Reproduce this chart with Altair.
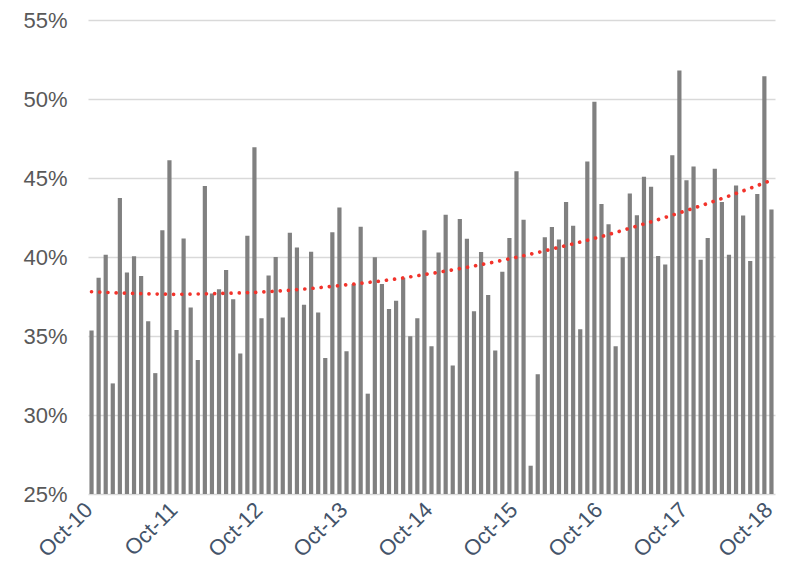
import altair as alt
import pandas as pd

values = [
    35.35, 38.69, 40.15, 32.00, 43.73, 39.02, 40.04, 38.79, 35.94, 32.65, 41.69, 46.13,
    35.38, 41.17, 36.81, 33.48, 44.50, 37.69, 37.96, 39.17, 37.33, 33.90, 41.35, 46.94,
    36.13, 38.83, 40.00, 36.17, 41.54, 40.60, 36.98, 40.33, 36.48, 33.60, 41.56, 43.13,
    34.04, 38.29, 41.92, 31.35, 39.98, 38.29, 36.71, 37.23, 38.69, 34.98, 36.13, 41.69,
    34.35, 40.29, 42.67, 33.13, 42.40, 41.15, 36.56, 40.31, 37.60, 34.08, 39.06, 41.21,
    45.42, 42.35, 26.79, 32.58, 41.25, 41.90, 41.10, 43.48, 41.98, 35.42, 46.04, 49.83,
    43.35, 42.08, 34.35, 39.98, 44.02, 42.65, 45.08, 44.44, 40.06, 39.52, 46.44, 51.81,
    44.85, 45.73, 39.83, 41.21, 45.58, 43.48, 40.15, 44.52, 42.63, 39.75, 43.98, 51.44,
    43.00,
]
month_index = list(range(len(values)))

# trend line at half-year steps
trend_months = [0, 6, 12, 18, 24, 30, 36, 42, 48, 54, 60, 66, 72, 78, 84, 90, 96]
trend_values = [37.80, 37.69, 37.64, 37.69, 37.78, 37.97, 38.24, 38.55, 38.96,
                39.43, 39.98, 40.61, 41.30, 42.09, 42.94, 43.86, 44.86]

tick_labels = ["Oct-10", "Oct-11", "Oct-12", "Oct-13", "Oct-14",
               "Oct-15", "Oct-16", "Oct-17", "Oct-18"]
tick_positions = [12 * k for k in range(len(tick_labels))]
y_ticks = [25, 30, 35, 40, 45, 50, 55]

df = pd.DataFrame({"i": month_index, "v": values})
df_trend = pd.DataFrame({"i": trend_months, "v": trend_values})

label_array = "[" + ",".join("'%s'" % t for t in tick_labels) + "]"

x_scale = alt.Scale(domain=[-0.5, len(values) - 0.5], nice=False, zero=False, padding=0)
y_scale = alt.Scale(domain=[25, 55], nice=False, zero=False)

x_enc = alt.X(
    "i:Q",
    scale=x_scale,
    axis=alt.Axis(
        values=tick_positions,
        labelExpr=label_array + "[round(datum.value / 12)]",
        labelAngle=-45,
        labelAlign="right",
        labelBaseline="middle",
        labelPadding=12,
        labelOffset=-3,
        labelFont="Liberation Sans",
        labelFontSize=22,
        labelColor="#44546A",
        labelOverlap=False,
        grid=False,
        ticks=False,
        domain=False,
        title=None,
    ),
)

bars = alt.Chart(df).mark_bar(width=4.2, color="#808080").encode(
    x=x_enc,
    y=alt.Y(
        "v:Q",
        scale=y_scale,
        axis=alt.Axis(
            values=y_ticks,
            labelExpr="datum.value + '%'",
            labelFont="Liberation Sans",
            labelFontSize=22,
            labelColor="#595959",
            labelPadding=21,
            grid=True,
            gridColor="#d9d9d9",
            gridWidth=1.5,
            ticks=False,
            domain=False,
            title=None,
        ),
    ),
    y2=alt.datum(25),
)

trend = (
    alt.Chart(df_trend)
    .mark_line(
        color="#f2332b",
        strokeWidth=3.7,
        strokeDash=[0.01, 8.2],
        strokeCap="round",
        interpolate="monotone",
    )
    .encode(x=alt.X("i:Q", scale=x_scale), y=alt.Y("v:Q", scale=y_scale))
)

chart = (
    alt.layer(bars, trend)
    .properties(
        width=687,
        height=474,
        autosize=alt.AutoSizeParams(type="none"),
        padding={"left": 80, "top": 12, "right": 3, "bottom": 70},
        background="white",
    )
    .configure_view(stroke=None)
)

chart.save("out.html", embed_options={"renderer": "svg", "actions": False})
